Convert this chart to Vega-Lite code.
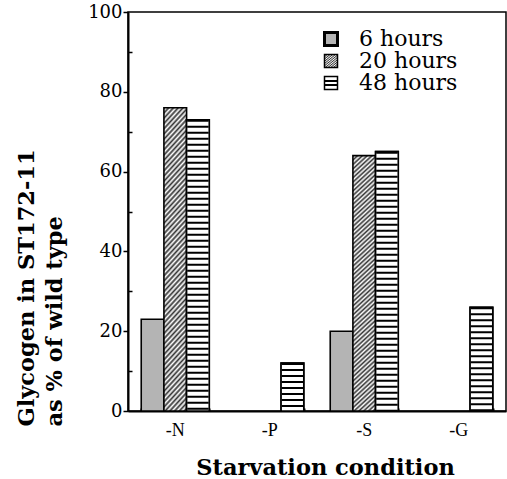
{
  "$schema": "https://vega.github.io/schema/vega-lite/v6.json",
  "width": 378,
  "height": 399,
  "autosize": {"type": "none"},
  "padding": {"left": 128, "top": 12, "right": 1, "bottom": 68},
  "background": "white",
  "config": {
    "view": {"stroke": "black", "strokeWidth": 1.5},
    "axis": {"grid": false},
    "legend": {"orient": "none", "title": null, "padding": 0, "symbolType": "square", "symbolSize": 169, "symbolStrokeWidth": 1.5, "symbolOpacity": 1, "labelFont": "DejaVu Serif", "labelFontSize": 22, "labelColor": "black", "labelOffset": 17, "legendX": 192}
  },
  "data": {
    "values": [
      {"cond": "-N", "time": "6 hours", "value": 23},
      {"cond": "-N", "time": "20 hours", "value": 76},
      {"cond": "-N", "time": "48 hours", "value": 73},
      {"cond": "-P", "time": "48 hours", "value": 12},
      {"cond": "-S", "time": "6 hours", "value": 20},
      {"cond": "-S", "time": "20 hours", "value": 64},
      {"cond": "-S", "time": "48 hours", "value": 65},
      {"cond": "-G", "time": "48 hours", "value": 26}
    ]
  },
  "resolve": {"axis": {"x": "independent", "y": "independent"}, "scale": {"opacity": "independent"}, "legend": {"opacity": "independent"}},
  "layer": [
    {
      "transform": [{"filter": "datum.time === '6 hours'"}],
      "mark": {"type": "bar", "stroke": "black", "strokeWidth": 1.6, "fill": "#b4b4b4"},
      "encoding": {
        "x": {"field": "cond", "type": "nominal", "scale": {"domain": ["-N", "-P", "-S", "-G"], "paddingInner": 0.28, "paddingOuter": 0.14},
          "axis": {"orient": "bottom", "ticks": false, "labelPadding": 10, "labelFont": "Liberation Serif", "labelFontSize": 18, "labelColor": "black", "labelAngle": 0, "domainColor": "black", "domainWidth": 2, "title": "Starvation condition", "titleFont": "DejaVu Serif", "titleFontWeight": "bold", "titleFontSize": 22.5, "titleColor": "black", "titleBaseline": "alphabetic", "titleAlign": "center", "titleX": 197, "titleY": 63}},
        "xOffset": {"field": "time", "type": "nominal", "scale": {"domain": ["6 hours", "20 hours", "48 hours"], "paddingInner": 0, "paddingOuter": 0}},
        "y": {"field": "value", "type": "quantitative", "scale": {"domain": [0, 100]},
          "axis": {"orient": "left", "values": [0, 20, 40, 60, 80, 100], "tickSize": 5, "tickWidth": 1.5, "tickColor": "black", "domainColor": "black", "domainWidth": 2, "labelFont": "DejaVu Serif", "labelFontSize": 18, "labelColor": "black", "labelPadding": 1, "title": ["Glycogen in ST172-11", "as % of wild type"], "titleFont": "DejaVu Serif", "titleFontWeight": "bold", "titleFontSize": 22.5, "titleColor": "black", "titleAngle": 270, "titleAlign": "left", "titleBaseline": "top", "titleX": -113, "titleY": 414, "titleLineHeight": 28}},
        "opacity": {"field": "time", "type": "nominal", "scale": {"domain": ["6 hours"], "range": [1]},
          "legend": {"legendY": 16, "symbolStrokeWidth": 3}}
      }
    },
    {
      "transform": [{"filter": "datum.time === '20 hours'"}],
      "mark": {"type": "bar", "stroke": "black", "strokeWidth": 1.6, "fill": {"gradient": "linear", "x1": 0, "y1": 0, "x2": 0.0883, "y2": 1.075, "stops": [
        {"offset": 0, "color": "#333"}, {"offset": 0.008, "color": "#fff"}, {"offset": 0.016, "color": "#333"}, {"offset": 0.024, "color": "#fff"}, {"offset": 0.032, "color": "#333"}, {"offset": 0.04, "color": "#fff"}, {"offset": 0.048, "color": "#333"}, {"offset": 0.056, "color": "#fff"}, {"offset": 0.064, "color": "#333"}, {"offset": 0.072, "color": "#fff"},
        {"offset": 0.08, "color": "#333"}, {"offset": 0.088, "color": "#fff"}, {"offset": 0.096, "color": "#333"}, {"offset": 0.104, "color": "#fff"}, {"offset": 0.112, "color": "#333"}, {"offset": 0.12, "color": "#fff"}, {"offset": 0.128, "color": "#333"}, {"offset": 0.136, "color": "#fff"}, {"offset": 0.144, "color": "#333"}, {"offset": 0.152, "color": "#fff"},
        {"offset": 0.16, "color": "#333"}, {"offset": 0.168, "color": "#fff"}, {"offset": 0.176, "color": "#333"}, {"offset": 0.184, "color": "#fff"}, {"offset": 0.192, "color": "#333"}, {"offset": 0.2, "color": "#fff"}, {"offset": 0.208, "color": "#333"}, {"offset": 0.216, "color": "#fff"}, {"offset": 0.224, "color": "#333"}, {"offset": 0.232, "color": "#fff"},
        {"offset": 0.24, "color": "#333"}, {"offset": 0.248, "color": "#fff"}, {"offset": 0.256, "color": "#333"}, {"offset": 0.264, "color": "#fff"}, {"offset": 0.272, "color": "#333"}, {"offset": 0.28, "color": "#fff"}, {"offset": 0.288, "color": "#333"}, {"offset": 0.296, "color": "#fff"}, {"offset": 0.304, "color": "#333"}, {"offset": 0.312, "color": "#fff"},
        {"offset": 0.32, "color": "#333"}, {"offset": 0.328, "color": "#fff"}, {"offset": 0.336, "color": "#333"}, {"offset": 0.344, "color": "#fff"}, {"offset": 0.352, "color": "#333"}, {"offset": 0.36, "color": "#fff"}, {"offset": 0.368, "color": "#333"}, {"offset": 0.376, "color": "#fff"}, {"offset": 0.384, "color": "#333"}, {"offset": 0.392, "color": "#fff"},
        {"offset": 0.4, "color": "#333"}, {"offset": 0.408, "color": "#fff"}, {"offset": 0.416, "color": "#333"}, {"offset": 0.424, "color": "#fff"}, {"offset": 0.432, "color": "#333"}, {"offset": 0.44, "color": "#fff"}, {"offset": 0.448, "color": "#333"}, {"offset": 0.456, "color": "#fff"}, {"offset": 0.464, "color": "#333"}, {"offset": 0.472, "color": "#fff"},
        {"offset": 0.48, "color": "#333"}, {"offset": 0.488, "color": "#fff"}, {"offset": 0.496, "color": "#333"}, {"offset": 0.504, "color": "#fff"}, {"offset": 0.512, "color": "#333"}, {"offset": 0.52, "color": "#fff"}, {"offset": 0.528, "color": "#333"}, {"offset": 0.536, "color": "#fff"}, {"offset": 0.544, "color": "#333"}, {"offset": 0.552, "color": "#fff"},
        {"offset": 0.56, "color": "#333"}, {"offset": 0.568, "color": "#fff"}, {"offset": 0.576, "color": "#333"}, {"offset": 0.584, "color": "#fff"}, {"offset": 0.592, "color": "#333"}, {"offset": 0.6, "color": "#fff"}, {"offset": 0.608, "color": "#333"}, {"offset": 0.616, "color": "#fff"}, {"offset": 0.624, "color": "#333"}, {"offset": 0.632, "color": "#fff"},
        {"offset": 0.64, "color": "#333"}, {"offset": 0.648, "color": "#fff"}, {"offset": 0.656, "color": "#333"}, {"offset": 0.664, "color": "#fff"}, {"offset": 0.672, "color": "#333"}, {"offset": 0.68, "color": "#fff"}, {"offset": 0.688, "color": "#333"}, {"offset": 0.696, "color": "#fff"}, {"offset": 0.704, "color": "#333"}, {"offset": 0.712, "color": "#fff"},
        {"offset": 0.72, "color": "#333"}, {"offset": 0.728, "color": "#fff"}, {"offset": 0.736, "color": "#333"}, {"offset": 0.744, "color": "#fff"}, {"offset": 0.752, "color": "#333"}, {"offset": 0.76, "color": "#fff"}, {"offset": 0.768, "color": "#333"}, {"offset": 0.776, "color": "#fff"}, {"offset": 0.784, "color": "#333"}, {"offset": 0.792, "color": "#fff"},
        {"offset": 0.8, "color": "#333"}, {"offset": 0.808, "color": "#fff"}, {"offset": 0.816, "color": "#333"}, {"offset": 0.824, "color": "#fff"}, {"offset": 0.832, "color": "#333"}, {"offset": 0.84, "color": "#fff"}, {"offset": 0.848, "color": "#333"}, {"offset": 0.856, "color": "#fff"}, {"offset": 0.864, "color": "#333"}, {"offset": 0.872, "color": "#fff"},
        {"offset": 0.88, "color": "#333"}, {"offset": 0.888, "color": "#fff"}, {"offset": 0.896, "color": "#333"}, {"offset": 0.904, "color": "#fff"}, {"offset": 0.912, "color": "#333"}, {"offset": 0.92, "color": "#fff"}, {"offset": 0.928, "color": "#333"}, {"offset": 0.936, "color": "#fff"}, {"offset": 0.944, "color": "#333"}, {"offset": 0.952, "color": "#fff"},
        {"offset": 0.96, "color": "#333"}, {"offset": 0.968, "color": "#fff"}, {"offset": 0.976, "color": "#333"}, {"offset": 0.984, "color": "#fff"}, {"offset": 0.992, "color": "#333"}, {"offset": 1, "color": "#fff"}]}},
      "encoding": {
        "x": {"field": "cond", "type": "nominal", "scale": {"domain": ["-N", "-P", "-S", "-G"], "paddingInner": 0.28, "paddingOuter": 0.14}, "axis": null},
        "xOffset": {"field": "time", "type": "nominal", "scale": {"domain": ["6 hours", "20 hours", "48 hours"], "paddingInner": 0, "paddingOuter": 0}},
        "y": {"field": "value", "type": "quantitative", "scale": {"domain": [0, 100]}, "axis": null},
        "opacity": {"field": "time", "type": "nominal", "scale": {"domain": ["20 hours"], "range": [1]},
          "legend": {"legendY": 38}}
      }
    },
    {
      "transform": [{"filter": "datum.time === '48 hours'"}],
      "mark": {"type": "bar", "stroke": "black", "strokeWidth": 1.6, "fill": {"gradient": "linear", "x1": 0, "y1": 0, "x2": 0, "y2": 1, "stops": [
        {"offset": 0, "color": "#fff"}, {"offset": 0.27, "color": "#fff"}, {"offset": 0.27, "color": "#000"}, {"offset": 0.4, "color": "#000"}, {"offset": 0.4, "color": "#fff"}, {"offset": 0.6, "color": "#fff"}, {"offset": 0.6, "color": "#000"}, {"offset": 0.73, "color": "#000"}, {"offset": 0.73, "color": "#fff"}, {"offset": 1, "color": "#fff"}]}},
      "encoding": {
        "x": {"field": "cond", "type": "nominal", "scale": {"domain": ["-N", "-P", "-S", "-G"], "paddingInner": 0.28, "paddingOuter": 0.14}, "axis": null},
        "xOffset": {"field": "time", "type": "nominal", "scale": {"domain": ["6 hours", "20 hours", "48 hours"], "paddingInner": 0, "paddingOuter": 0}},
        "y": {"field": "value", "type": "quantitative", "scale": {"domain": [0, 100]}, "axis": null},
        "opacity": {"field": "time", "type": "nominal", "scale": {"domain": ["48 hours"], "range": [1]},
          "legend": {"legendY": 60}}
      }
    },
    {
      "transform": [{"filter": "datum.time === '48 hours'"}],
      "mark": {"type": "bar", "stroke": null, "fill": "#ffffff"},
      "encoding": {
        "x": {"field": "cond", "type": "nominal", "scale": {"domain": ["-N", "-P", "-S", "-G"], "paddingInner": 0.28, "paddingOuter": 0.14}, "axis": null},
        "xOffset": {"field": "time", "type": "nominal", "scale": {"domain": ["6 hours", "20 hours", "48 hours"], "paddingInner": 0, "paddingOuter": 0}},
        "y": {"field": "value", "type": "quantitative", "scale": {"domain": [0, 100]}, "axis": null}
      }
    },
    {
      "transform": [{"filter": "datum.time === '48 hours'"}],
      "mark": {"type": "rule", "color": "black", "strokeWidth": 21.5, "strokeDash": [2, 4], "strokeCap": "butt"},
      "encoding": {
        "x": {"field": "cond", "type": "nominal", "scale": {"domain": ["-N", "-P", "-S", "-G"], "paddingInner": 0.28, "paddingOuter": 0.14},
          "axis": {"orient": "bottom", "tickBand": "extent", "tickSize": -3, "tickWidth": 2, "tickColor": "black", "labels": false, "domain": false, "title": null, "grid": false}},
        "xOffset": {"field": "time", "type": "nominal", "scale": {"domain": ["6 hours", "20 hours", "48 hours"], "paddingInner": 0, "paddingOuter": 0}},
        "y": {"field": "value", "type": "quantitative", "scale": {"domain": [0, 100]},
          "axis": {"orient": "left", "values": [10, 30, 50, 70, 90], "tickSize": -4, "tickWidth": 1.5, "tickColor": "black", "labels": false, "domain": false, "title": null, "grid": false}},
        "y2": {"datum": 0}
      }
    },
    {
      "transform": [{"filter": "datum.time === '48 hours'"}],
      "mark": {"type": "bar", "fillOpacity": 0, "stroke": "black", "strokeWidth": 1.6},
      "encoding": {
        "x": {"field": "cond", "type": "nominal", "scale": {"domain": ["-N", "-P", "-S", "-G"], "paddingInner": 0.28, "paddingOuter": 0.14}, "axis": null},
        "xOffset": {"field": "time", "type": "nominal", "scale": {"domain": ["6 hours", "20 hours", "48 hours"], "paddingInner": 0, "paddingOuter": 0}},
        "y": {"field": "value", "type": "quantitative", "scale": {"domain": [0, 100]}, "axis": null}
      }
    }
  ]
}
